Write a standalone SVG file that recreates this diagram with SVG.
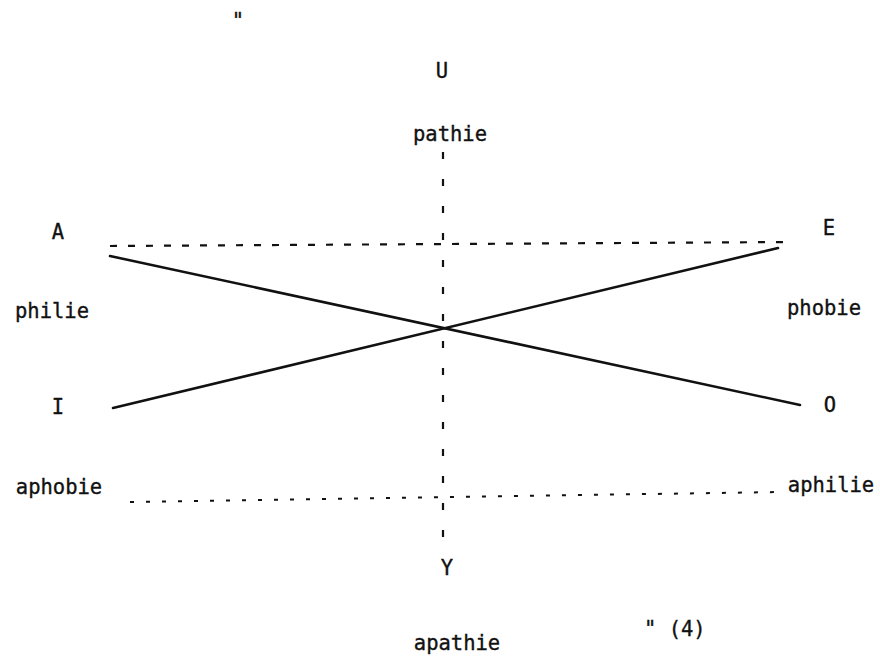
<svg xmlns="http://www.w3.org/2000/svg" width="880" height="657" viewBox="0 0 880 657">
<style>
text{font-family:"DejaVu Sans Mono","Liberation Mono",monospace;font-size:20.5px;fill:#111;stroke:#111;stroke-width:0.35;text-anchor:middle}
.solid{stroke:#111;stroke-width:2.6;fill:none;stroke-linecap:round}
.dash{stroke:#111;stroke-width:2.2;fill:none;stroke-dasharray:7 20}
.hdash{stroke:#111;stroke-width:2.2;fill:none;stroke-dasharray:7 11}
.dot{stroke:#111;stroke-width:2;fill:none;stroke-dasharray:4 12}
</style>
<rect width="880" height="657" fill="#fff"/>
<g id="connectors">
<line class="dash" x1="443" y1="152" x2="443" y2="556"/>
<line class="hdash" x1="110" y1="246" x2="792" y2="242"/>
<line class="dot" x1="130" y1="502" x2="780" y2="492"/>
<line class="solid" x1="110" y1="256" x2="800" y2="405"/>
<line class="solid" x1="113" y1="408" x2="778" y2="248"/>
</g>
<g id="quote-top"><text x="238" y="28">"</text></g>
<g id="node-U"><text x="442" y="78">U</text></g>
<g id="label-pathie"><text x="450" y="141">pathie</text></g>
<g id="node-A"><text x="58" y="239">A</text></g>
<g id="node-E"><text x="829" y="235">E</text></g>
<g id="label-philie"><text x="52" y="318">philie</text></g>
<g id="label-phobie"><text x="824" y="315">phobie</text></g>
<g id="node-I"><text x="58" y="414">I</text></g>
<g id="node-O"><text x="830" y="412">O</text></g>
<g id="label-aphobie"><text x="59" y="494">aphobie</text></g>
<g id="label-aphilie"><text x="831" y="492">aphilie</text></g>
<g id="node-Y"><text x="447" y="575">Y</text></g>
<g id="label-apathie"><text x="457" y="650">apathie</text></g>
<g id="note"><text x="644" y="636" style="text-anchor:start">" (4)</text></g>
</svg>
